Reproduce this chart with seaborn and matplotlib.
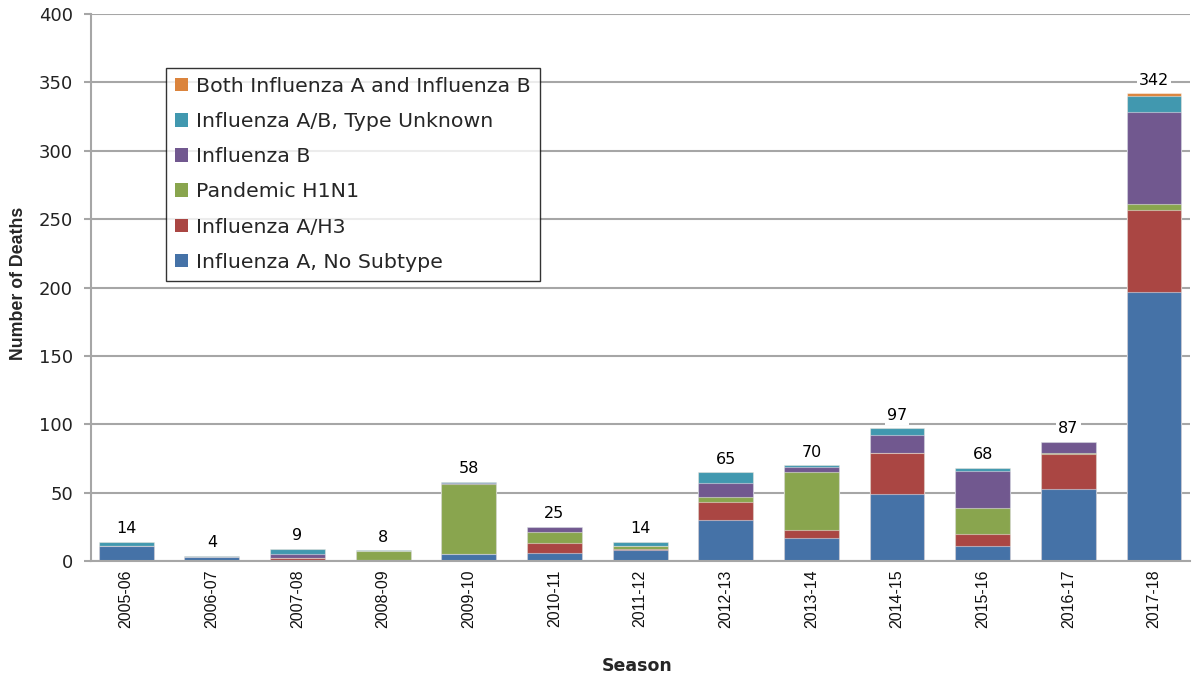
import matplotlib
matplotlib.use("Agg")
import matplotlib.pyplot as plt
import seaborn as sns
import numpy as np
from matplotlib.patches import Patch

seasons = ["2005-06", "2006-07", "2007-08", "2008-09", "2009-10", "2010-11", "2011-12",
           "2012-13", "2013-14", "2014-15", "2015-16", "2016-17", "2017-18"]
a_no_subtype = [11, 3, 1, 1, 5, 6, 8, 30, 17, 49, 11, 53, 197]
a_h3 = [0, 0, 1, 0, 0, 7, 1, 13, 6, 30, 9, 25, 60]
pandemic_h1n1 = [0, 0, 0, 6, 51, 8, 2, 4, 42, 0, 19, 1, 4]
influenza_b = [0, 0, 3, 0, 1, 4, 0, 10, 4, 13, 27, 8, 67]
type_unknown = [3, 1, 4, 1, 1, 0, 3, 8, 1, 5, 2, 0, 12]
both_a_b = [0, 0, 0, 0, 0, 0, 0, 0, 0, 0, 0, 0, 2]

series_names = ["Influenza A, No Subtype", "Influenza A/H3", "Pandemic H1N1",
                "Influenza B", "Influenza A/B, Type Unknown", "Both Influenza A and Influenza B"]
series_vals = [a_no_subtype, a_h3, pandemic_h1n1, influenza_b, type_unknown, both_a_b]
colors = ["#4572A7", "#AA4643", "#89A54E", "#71588F", "#4198AF", "#DB843D"]

sns.set_style("white")
plt.rcParams['font.family'] = ['DejaVu Sans']

fig = plt.figure(figsize=(11.95, 6.76), dpi=100)
ax = fig.add_axes([0.0762, 0.1701, 0.9196, 0.8092])

cum = np.cumsum(np.array(series_vals), axis=0)
for k in range(len(series_vals) - 1, -1, -1):
    sns.barplot(x=seasons, y=cum[k], color=colors[k], saturation=1, width=0.64,
                edgecolor=(1, 1, 1, 0.45), linewidth=0.8, ax=ax, zorder=3)

totals = cum[-1]
for i, t in enumerate(totals):
    ax.annotate(str(int(t)), (i, t), xytext=(0, 4), textcoords="offset points",
                ha="center", va="bottom", fontsize=11.5, color="black",
                bbox=dict(fc="white", ec="none", pad=1.5), zorder=4)

ax.set_xlim(-0.41, 12.42)
ax.set_ylim(0, 400)
ax.set_yticks(range(0, 401, 50))
ax.yaxis.grid(True, color="#A6A6A6", lw=1.5)
ax.xaxis.grid(False)
ax.set_axisbelow(True)
for s in ["top", "right"]:
    ax.spines[s].set_visible(False)
for s in ["left", "bottom"]:
    ax.spines[s].set_color("#A6A6A6")
    ax.spines[s].set_linewidth(1.5)
ax.spines["bottom"].set_zorder(5)

ax.tick_params(axis="y", length=5, width=1.5, color="#A6A6A6", pad=8, labelsize=13,
               left=True, labelcolor="#222222")
ax.tick_params(axis="x", length=0, pad=6)
for lab in ax.get_xticklabels():
    lab.set_rotation(90)
    lab.set_fontfamily(["Liberation Sans", "DejaVu Sans"])
    lab.set_fontsize(11.5)
    lab.set_color("#111111")

ax.set_xlabel("Season", fontsize=12.5, fontweight="bold")
ax.xaxis.set_label_coords(0.497, -0.1755)
ax.set_ylabel("Number of Deaths", fontsize=12.8, fontweight="bold",
              family=["Liberation Sans", "DejaVu Sans"])
ax.yaxis.set_label_coords(-0.058, 0.508)

handles = [Patch(facecolor=colors[k], edgecolor="none", label=series_names[k])
           for k in range(len(series_names) - 1, -1, -1)]
leg = ax.legend(handles=handles, loc="upper left", bbox_to_anchor=(0.0682, 0.902),
                fontsize=14.75, frameon=True, fancybox=False, edgecolor="black",
                handlelength=0.63, handleheight=0.63, handletextpad=0.39,
                labelspacing=0.79, borderpad=0.45, borderaxespad=0)
leg.get_frame().set_linewidth(1.0)
leg.set_zorder(6)

fig.savefig("out.png", dpi=100)
